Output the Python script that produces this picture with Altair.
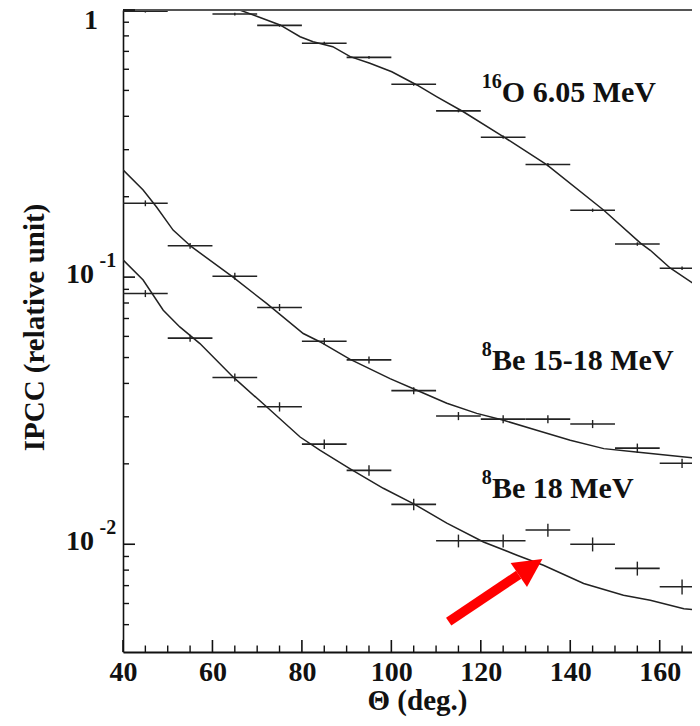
import altair as alt
import pandas as pd

# ---------------- data ----------------
bin_half_width = 5  # horizontal bars span +-5 deg

angles_o16 = [45, 65, 75, 85, 95, 105, 115, 125, 135, 145, 155, 165]
ipcc_o16 = [0.99, 0.966, 0.876, 0.751, 0.665, 0.527, 0.419, 0.334, 0.264, 0.178, 0.133, 0.108]
relerr_o16 = [0.012, 0.012, 0.012, 0.012, 0.012, 0.012, 0.012, 0.014, 0.014, 0.014, 0.015, 0.015]

angles_be = [45, 55, 65, 75, 85, 95, 105, 115, 125, 135, 145, 155, 165]
ipcc_be1518 = [0.189, 0.131, 0.1008, 0.0770, 0.0575, 0.0490, 0.0376, 0.0302, 0.0294, 0.0294, 0.0282, 0.0229, 0.0201]
relerr_be1518 = [0.025, 0.025, 0.03, 0.03, 0.03, 0.03, 0.03, 0.035, 0.035, 0.035, 0.035, 0.04, 0.04]
ipcc_be18 = [0.0868, 0.0591, 0.0421, 0.0327, 0.0237, 0.0189, 0.0141, 0.0103, 0.0103, 0.0113, 0.0100, 0.00812, 0.00693]
relerr_be18 = [0.03, 0.03, 0.035, 0.04, 0.04, 0.045, 0.05, 0.055, 0.055, 0.055, 0.06, 0.06, 0.065]

# theory curves
curve_o16_x = [66.1, 70.2, 75.1, 79.6, 82.5, 86.9, 90.8, 95.2, 100.1, 105.7, 110.2, 116.1, 125.1, 134.8, 147.5, 155.7, 157.9, 162.4, 169.1]
curve_o16_y = [1.0, 0.944, 0.879, 0.794, 0.761, 0.729, 0.669, 0.632, 0.587, 0.524, 0.473, 0.416, 0.335, 0.263, 0.178, 0.134, 0.126, 0.108, 0.0908]

curve_be1518_x = [40, 44.5, 47.5, 51.2, 55.3, 64.6, 72.1, 80.3, 84.0, 90.7, 99.7, 105.7, 112.4, 119.1, 125.1, 132.5, 140.0, 147.5, 154.2, 169.1]
curve_be1518_y = [0.252, 0.212, 0.183, 0.150, 0.130, 0.100, 0.0797, 0.0615, 0.0573, 0.0493, 0.0417, 0.0377, 0.0337, 0.0309, 0.0291, 0.0267, 0.0245, 0.0228, 0.0222, 0.0209]

curve_be18_x = [40, 44.5, 49.0, 52.7, 57.2, 64.6, 72.1, 79.6, 84.0, 90.7, 98.2, 104.9, 112.4, 120.6, 128.1, 134.0, 143.0, 151.9, 157.9, 165.4, 169.1]
curve_be18_y = [0.116, 0.0975, 0.0752, 0.0651, 0.0564, 0.0423, 0.0327, 0.0252, 0.0225, 0.0192, 0.0162, 0.0142, 0.0120, 0.0102, 0.00910, 0.00834, 0.00713, 0.00644, 0.00617, 0.00574, 0.00566]

# axis ticks
x_major_ticks = [40, 60, 80, 100, 120, 140, 160]
x_minor_ticks = [45, 50, 55, 65, 70, 75, 85, 90, 95, 105, 110, 115, 125, 130, 135, 145, 150, 155, 165]
y_major_ticks = [0.01, 0.1, 1]
y_minor_ticks = [0.005, 0.006, 0.007, 0.008, 0.009,
                 0.02, 0.03, 0.04, 0.05, 0.06, 0.07, 0.08, 0.09,
                 0.2, 0.3, 0.4, 0.5, 0.6, 0.7, 0.8, 0.9]
y_label_values = [0.1, 0.01]
y_label_bases = ["10", "10"]
y_label_exps = ["-1", "-2"]

# annotations
ann_x = [124.7, 122.5, 122.5]
ann_y = [0.4535, 0.04484, 0.01487]
ann_text = ["O 6.05 MeV", "Be 15-18 MeV", "Be 18 MeV"]
sup_x = [120.2, 120.2, 120.2]
sup_y = [0.5103, 0.0506, 0.01685]
sup_text = ["16", "8", "8"]

# red arrow (tail -> head base, tip)
arrow_tail = (112.82, 0.005133)
arrow_base = (128.47, 0.007691)
arrow_tip = (133.77, 0.008810)

# ---------------- build tables ----------------
rows = []
for name, xs, ys, es in [("O16", angles_o16, ipcc_o16, relerr_o16),
                         ("Be1518", angles_be, ipcc_be1518, relerr_be1518),
                         ("Be18", angles_be, ipcc_be18, relerr_be18)]:
    for xv, yv, ev in zip(xs, ys, es):
        rows.append(dict(series=name, x=xv, y=yv, xlo=xv - bin_half_width, xhi=xv + bin_half_width,
                         ylo=yv * (1 - ev), yhi=yv * (1 + ev)))
pts = pd.DataFrame(rows)

crow = []
for name, xs, ys in [("O16", curve_o16_x, curve_o16_y),
                     ("Be1518", curve_be1518_x, curve_be1518_y),
                     ("Be18", curve_be18_x, curve_be18_y)]:
    for i, (xv, yv) in enumerate(zip(xs, ys)):
        crow.append(dict(series=name, i=i, x=xv, y=yv))
curves = pd.DataFrame(crow)

W, H = 569, 642
X_MAX = 40 + W / 4.4725
FONT = "Liberation Serif"
INK = "#111111"

x_scale = alt.Scale(domain=[40, X_MAX], nice=False, zero=False)
y_scale = alt.Scale(type="log", domain=[0.00395, 1], nice=False)

x_axis = alt.Axis(values=x_major_ticks, ticks=False, tickSize=0, grid=False,
                  labelFont=FONT, labelFontSize=28, labelFontWeight="bold", labelColor=INK,
                  labelPadding=6, labelFlush=False,
                  domainColor=INK, domainWidth=2,
                  title="Θ (deg.)", titleFont=FONT, titleFontSize=29, titleFontWeight="bold",
                  titleColor=INK, titleX=294, titleY=57, titleBaseline="alphabetic", titleAlign="center")
y_axis = alt.Axis(ticks=False, tickSize=0, labels=False, grid=False,
                  domainColor=INK, domainWidth=1.6,
                  title="IPCC (relative unit)", titleFont=FONT, titleFontSize=29, titleFontWeight="bold",
                  titleColor=INK, titleX=-80, titleY=317, titleAngle=270, titleBaseline="alphabetic",
                  titleAlign="center")


def X(f):
    return alt.X(f, type="quantitative", scale=x_scale, axis=x_axis)


def Y(f):
    return alt.Y(f, type="quantitative", scale=y_scale, axis=y_axis)


base_pts = alt.Chart(pts)
hbars = base_pts.mark_rule(color="#222222", strokeWidth=1.6, clip=True).encode(x=X("xlo"), x2="xhi", y=Y("y"))
vbars = base_pts.mark_rule(color="#222222", strokeWidth=1.4, clip=True).encode(x=X("x"), y=Y("ylo"), y2="yhi")

lines = alt.Chart(curves).mark_line(color="#222222", strokeWidth=1.5, clip=True).encode(
    x=X("x"), y=Y("y"), detail="series", order="i")

top_border = alt.Chart(pd.DataFrame({"a": [0]})).mark_rule(color="#555555", strokeWidth=2.2).encode(
    x=alt.value(0), x2=alt.value(W), y=alt.value(0))

xt_major = alt.Chart(pd.DataFrame({"t": x_major_ticks})).mark_rule(color=INK, strokeWidth=1.6).encode(
    x=X("t"), y=alt.value(H), y2=alt.value(H - 12))
xt_minor = alt.Chart(pd.DataFrame({"t": x_minor_ticks})).mark_rule(color=INK, strokeWidth=1.4).encode(
    x=X("t"), y=alt.value(H), y2=alt.value(H - 6.5))
yt_major = alt.Chart(pd.DataFrame({"t": y_major_ticks})).mark_rule(color=INK, strokeWidth=1.6).encode(
    y=Y("t"), x=alt.value(0), x2=alt.value(12))
yt_minor = alt.Chart(pd.DataFrame({"t": y_minor_ticks})).mark_rule(color=INK, strokeWidth=1.4).encode(
    y=Y("t"), x=alt.value(0), x2=alt.value(6))

ylab_df = pd.DataFrame({"v": y_label_values, "b": y_label_bases, "e": y_label_exps})
ylab = alt.Chart(ylab_df).mark_text(font=FONT, fontSize=28, fontWeight="bold", color=INK,
                                    align="right", baseline="alphabetic", dy=5.5).encode(
    y=Y("v"), x=alt.value(-29), text="b")
yexp = alt.Chart(ylab_df).mark_text(font=FONT, fontSize=20, fontWeight="bold", color=INK,
                                    align="left", baseline="alphabetic", dy=-10.5).encode(
    y=Y("v"), x=alt.value(-23.5), text="e")
yone = alt.Chart(pd.DataFrame({"v": [1], "b": ["1"]})).mark_text(
    font=FONT, fontSize=28, fontWeight="bold", color=INK, align="right", baseline="alphabetic", dy=19).encode(
    y=Y("v"), x=alt.value(-25), text="b")

ann = alt.Chart(pd.DataFrame({"x": ann_x, "y": ann_y, "t": ann_text})).mark_text(
    font=FONT, fontSize=30, fontWeight="bold", color=INK, align="left", baseline="alphabetic").encode(
    x=X("x"), y=Y("y"), text="t")
sup = alt.Chart(pd.DataFrame({"x": sup_x, "y": sup_y, "t": sup_text})).mark_text(
    font=FONT, fontSize=20, fontWeight="bold", color=INK, align="left", baseline="alphabetic").encode(
    x=X("x"), y=Y("y"), text="t")

shaft = alt.Chart(pd.DataFrame({"x": [arrow_tail[0]], "y": [arrow_tail[1]],
                                "x2": [arrow_base[0]], "y2": [arrow_base[1]]})).mark_rule(
    color="#ff0000", strokeWidth=9.5, strokeCap="butt").encode(x=X("x"), y=Y("y"), x2="x2", y2="y2")
head = alt.Chart(pd.DataFrame({"x": [arrow_tip[0]], "y": [arrow_tip[1]]})).mark_point(
    shape="M0,0L1.02,2L-1.02,2Z", filled=True, size=812, angle=55.8, color="#ff0000",
    opacity=1, strokeWidth=0).encode(x=X("x"), y=Y("y"))

chart = alt.layer(
    lines, hbars, vbars, top_border, xt_major, xt_minor, yt_major, yt_minor,
    ylab, yexp, yone, ann, sup, shaft, head
).properties(
    width=W, height=H,
    padding={"left": 115, "top": 2, "right": 0, "bottom": 65},
    autosize=alt.AutoSizeParams(type="none"),
    background="white",
).configure_view(stroke=None)

chart.save("out.html", embed_options={"renderer": "svg", "actions": False})
